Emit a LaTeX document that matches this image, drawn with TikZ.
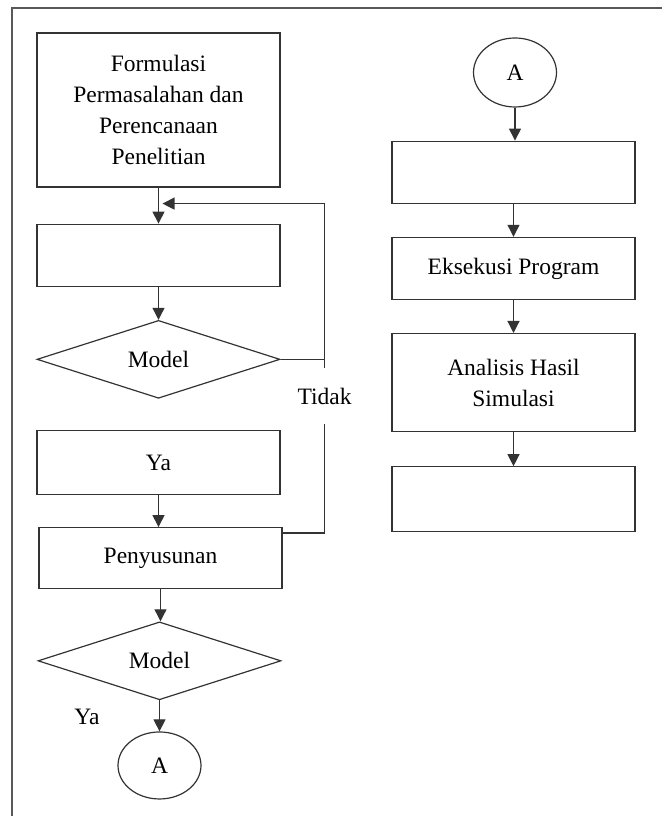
\documentclass[tikz,border=0pt]{standalone}
\usepackage{fontspec}
\setmainfont{Liberation Serif}
\usetikzlibrary{shapes.geometric,positioning,calc,arrows.meta}
\tikzset{
    proses/.style={rectangle, draw, minimum width=243pt, minimum height=#1, align=center, inner sep=2pt},
    keputusan/.style={diamond, draw, minimum width=243pt, minimum height=77pt, inner sep=0pt},
    konektor/.style={ellipse, draw, minimum width=83pt, minimum height=#1, inner sep=0pt},
    panah/.style={-{Triangle[length=12pt,width=12pt]}},
}

\begin{document}
\begin{tikzpicture}[x=1pt, y=1pt, line width=1.2pt, draw=black!80,
    font=\fontsize{23.5}{31}\selectfont]
  \useasboundingbox (0,0) rectangle (662,816);
  % bingkai
  \draw[black!65, line width=2pt] (12,0) -- (12,808) -- (662,808);

  % KOLOM KIRI
  \node [proses=154pt] (formulasi) at (158.5,706)
    {Formulasi\\Permasalahan dan\\Perencanaan\\Penelitian};
  \node [proses=62pt, below=36pt of formulasi] (kotakdua) {};
  \node [keputusan, below=33pt of kotakdua] (modelsatu) {Model};
  \node [proses=64pt, below=31pt of modelsatu] (ya) {Ya};
  \node [proses=61pt, below=32pt of ya, xshift=2pt] (penyusunan) {Penyusunan};
  \node [keputusan, below=32pt of penyusunan, xshift=-1pt] (modeldua) {Model};
  \node [konektor=67pt, below=31pt of modeldua] (sambunga) {A};
  \node (yalabel) at (87,99) {Ya};

  % KOLOM KANAN
  \node [konektor=69pt] (sambungb) at (515,743.5) {A};
  \node [proses=62pt, below=33pt of sambungb, xshift=-1.5pt] (kotakkanan) {};
  \node [proses=62pt, below=33pt of kotakkanan] (eksekusi) {Eksekusi Program};
  \node [proses=98pt, below=33pt of eksekusi] (analisis) {Analisis Hasil\\Simulasi};
  \node [proses=65pt, below=34pt of analisis] (kotakakhir) {};

  \node [fill=white, minimum height=55pt, inner sep=0pt] (tidak) at (324.5,420) {Tidak};
  \coordinate (masuk) at ($(formulasi.south)+(4,-16)$);

  % PANAH
  \draw[panah] (formulasi.south) -- (kotakdua.north);
  \draw[panah] (kotakdua.south) -- (modelsatu.north);
  \draw[panah] (ya.south) -- (ya.south |- penyusunan.north);
  \draw[panah] (penyusunan.south) -- (penyusunan.south |- modeldua.north);
  \draw[panah] (modeldua.south) -- (sambunga.north);
  \draw[panah] (sambungb.south) -- (sambungb.south |- kotakkanan.north);
  \draw[panah] (kotakkanan.south) -- (eksekusi.north);
  \draw[panah] (eksekusi.south) -- (analisis.north);
  \draw[panah] (analisis.south) -- (kotakakhir.north);

  % umpan balik
  \draw ($(penyusunan.north east)+(0,-6)$) -| (tidak.south);
  \draw[panah] (tidak.north) |- (masuk);
  \draw (modelsatu.east) -- (modelsatu.east -| tidak.north);
\end{tikzpicture}
\end{document}
